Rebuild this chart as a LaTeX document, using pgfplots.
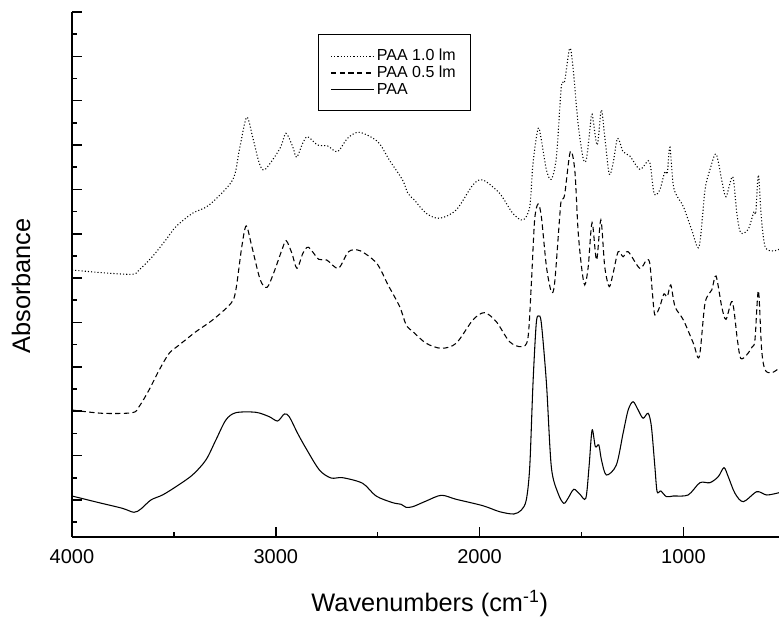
\documentclass[border=0pt]{standalone}
\usepackage{pgfplots}
\pgfplotsset{compat=1.18}
\usepackage{fontspec}
\setmainfont{Liberation Sans}
\begin{document}
\begin{tikzpicture}
\begin{axis}[
  at={(0pt,0pt)}, anchor=south west,
  width=530.25pt, height=393.75pt, scale only axis,
  xmin=531, xmax=4000, ymin=0, ymax=525,
  x dir=reverse,
  axis x line*=bottom, axis y line*=left,
  axis line style={-, line width=1.3pt},
  tick align=inside,
  xtick={1000,2000,3000,4000},
  minor xtick={1500,2500,3500},
  ytick={37,81.4,125.7,170.1,214.5,258.8,303.2,347.5,391.9,436.3,480.6,525},
  minor ytick={14.8,59.2,103.6,147.9,192.3,236.7,281,325.4,369.7,414.1,458.5,502.8},
  yticklabels={},
  major tick length=7.5pt, minor tick length=3.75pt,
  tick style={black, line width=1.2pt},
  /pgf/number format/assume math mode=true,
  /pgf/number format/1000 sep={},
  xticklabel style={font=\fontsize{15}{18}\selectfont, yshift=-6pt},
  xlabel={Wavenumbers (cm\textsuperscript{-1})},
  xlabel style={at={(axis description cs:0.506,-0.141)}, anchor=base, font=\fontsize{19}{22}\selectfont},
  ylabel={Absorbance},
  ylabel style={at={(axis description cs:-0.072,0.478)}, anchor=center, font=\fontsize{19}{22}\selectfont},
  legend cell align=left,
  legend style={at={(axis description cs:0.348,0.958)}, anchor=north west, draw=black, line width=0.8pt,
    font=\fontsize{12}{13}\selectfont, inner xsep=9pt, inner ysep=9pt, row sep=-1.5pt},
  legend image code/.code={\draw[#1] (0pt,0pt) -- (32pt,0pt);},
]
\addplot[black, line width=0.8pt, dash pattern=on 0.8pt off 1.6pt, smooth, tension=0.5] coordinates {
(4000,267) (3851,264.3) (3704,262.7) (3671,267) (3606,280.3) (3540,297) (3490,310.3) (3409,323.7) (3327,332) (3212,357) (3179,387) (3143,419.7) (3114,400.3) (3081,373.7) (3057,367) (3016,377) (2975,390.3) (2950,403.7) (2917,390.3) (2898,379.7) (2868,393.7) (2844,400.3) (2795,392) (2746,391) (2697,385.3) (2648,398.7) (2590,404.7) (2500,395.3) (2443,377) (2378,357) (2352,343.7) (2320,337) (2262,323.7) (2197,318.7) (2115,327) (2033,352) (1984,357) (1902,343.7) (1837,323.7) (1787,317) (1754,330.3) (1738,373.7) (1713,408.7) (1697,397) (1672,367) (1648,357.7) (1623,380.3) (1599,450.3) (1583,455.3) (1558,488.7) (1542,470.3) (1517,413.7) (1492,378.7) (1476,377.7) (1459,407) (1448,422.7) (1423,392) (1403,427) (1386,400.3) (1364,363) (1345,373.7) (1323,398.7) (1296,385.3) (1263,381) (1214,367.7) (1173,376.3) (1161,370.3) (1143,343) (1116,347) (1091,365.3) (1079,363.7) (1066,389.7) (1047,348.7) (1000,330.3) (959,307) (923,290.3) (894,347) (870,367) (840,383) (812,357) (791,340.3) (758,360.3) (738,323.7) (719,304.3) (682,307.7) (654,325.3) (645,324.3) (632,362) (618,320.3) (599,290.3) (559,286) (531,287.7)
};
\addlegendentry{PAA 1.0 lm}
\addplot[black, line width=0.8pt, dash pattern=on 4pt off 2.5pt, smooth, tension=0.5] coordinates {
(4000,127) (3851,123.7) (3704,124.3) (3671,130.3) (3622,147) (3572,167) (3523,183.7) (3474,192) (3392,205.3) (3310,217) (3220,233.7) (3196,247) (3167,290) (3145,311) (3117,290) (3076,257) (3043,249.7) (3011,263.7) (2970,287) (2949,296.3) (2921,283.7) (2896,268.7) (2867,283.7) (2839,289.7) (2790,277.7) (2750,277) (2693,268.7) (2643,285.3) (2587,286.3) (2505,273.7) (2449,252) (2392,230.3) (2360,212) (2327,205.3) (2262,193.7) (2188,188.7) (2115,193.7) (2033,217) (1976,224.3) (1918,215.3) (1853,195.3) (1795,190.3) (1763,198.7) (1746,253.7) (1730,317) (1713,333) (1697,320.3) (1672,270.3) (1648,245.3) (1632,253.7) (1607,320.3) (1599,337) (1583,342) (1555,385.3) (1533,367) (1517,307) (1500,270.3) (1484,252) (1467,270.3) (1448,314.3) (1426,277) (1405,317) (1386,270.3) (1364,250.3) (1345,263.7) (1320,285.3) (1296,280.3) (1271,285.3) (1214,268.7) (1181,277) (1165,273.7) (1152,243.7) (1140,222) (1116,230.3) (1096,243) (1079,240.3) (1062,252) (1041,230.3) (1000,217) (951,193.7) (922,180.3) (894,233.7) (861,247) (840,261) (812,230.3) (791,217.7) (760,235.3) (735,197) (719,178.7) (690,182) (662,190.3) (649,197) (632,246.3) (616,187) (599,167) (566,164.3) (531,168.7)
};
\addlegendentry{PAA 0.5 lm}
\addplot[black, line width=0.8pt, smooth, tension=0.5] coordinates {
(4000,41) (3867,34.3) (3753,28.7) (3696,24.7) (3662,28) (3613,37) (3556,42) (3490,50.3) (3409,62) (3343,77) (3294,97) (3245,117) (3196,124.3) (3098,124.7) (3032,120.3) (2991,116) (2958,123) (2934,120.3) (2893,103.7) (2852,88.7) (2786,67) (2729,59) (2672,59.3) (2574,53.7) (2508,41) (2426,34.3) (2385,32.7) (2361,29.7) (2328,30.3) (2262,36) (2188,41.7) (2115,37.7) (1984,31.3) (1902,25.3) (1832,23) (1795,27) (1771,37) (1754,70) (1738,153.7) (1722,213.7) (1710,221) (1697,213.7) (1672,153.7) (1648,70) (1615,43.7) (1587,33.7) (1566,38.7) (1538,47.7) (1509,43) (1479,38.7) (1463,70.3) (1448,107) (1432,90.3) (1415,92) (1402,77) (1378,62) (1329,72) (1296,103.7) (1271,127) (1247,135.3) (1222,127) (1198,118.7) (1173,123.7) (1157,110.3) (1140,70.3) (1129,45.3) (1111,46) (1083,40.3) (1050,41) (977,42) (919,54.3) (870,54.3) (829,60.3) (801,69.3) (780,60.3) (747,43.7) (706,35.3) (640,45.3) (591,42) (531,44.3)
};
\addlegendentry{PAA}
\end{axis}
\pgfresetboundingbox
\path[use as bounding box] (-54pt,-60pt) rectangle (530.25pt,402.75pt);
\end{tikzpicture}
\end{document}
